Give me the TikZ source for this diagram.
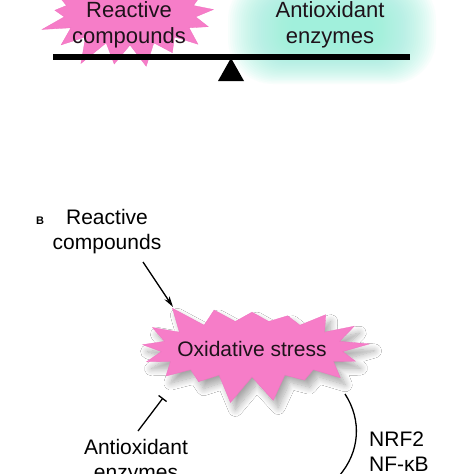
\documentclass[tikz,border=0pt]{standalone}
\usepackage{fontspec}
\setmainfont{Liberation Sans}
\usetikzlibrary{shapes.symbols,arrows.meta,shadows.blur}
\definecolor{burst}{RGB}{246,125,200}
\definecolor{burstedge}{RGB}{240,112,192}
\definecolor{glowc}{RGB}{150,240,220}
\definecolor{txt}{RGB}{30,18,26}
\tikzset{
  lbl/.style={align=center, text=txt, font=\fontsize{21}{25}\selectfont, inner sep=0pt},
  burstbox/.style={starburst, fill=burst, draw=burstedge, line width=0.3pt, starburst points=17, starburst point height=28pt, inner sep=0pt},
  conn/.style={line width=1.3pt, draw=black},
}
\begin{document}
\begin{tikzpicture}[x=1pt,y=-1pt]
\useasboundingbox (0,0) rectangle (474,474);
\clip (0,0) rectangle (474,474);
\fill[white] (0,0) rectangle (474,474);
% ---- Panel A ----
\foreach \i in {0,...,29}{
  \fill[glowc, fill opacity=0.06, rounded corners={45pt-1.2pt*\i}]
    ({228+2.2*\i},{-25+1.4*\i}) rectangle ({436-2.2*\i},{84-1.4*\i});
}
\node[burstbox, random starburst=7, minimum width=188pt, minimum height=118pt] (topburst) at (130,14) {};
\node[lbl, font=\fontsize{22}{26}\selectfont] (rcA) at (129,25) {Reactive\\compounds};
\node[lbl, font=\fontsize{22}{26}\selectfont] (aeA) at (330,25) {Antioxidant\\enzymes};
\fill[black] (53,54) rectangle (410,60);
\coordinate (apex) at (231,58);
\fill[black] (apex) -- (244,81) -- (218,81) -- cycle;
% ---- Panel B ----
\node[font=\bfseries\fontsize{11}{12}\selectfont, inner sep=0pt] (lblB) at (40,221) {B};
\node[lbl, text=black] (rcB) at (107,232) {Reactive\\compounds};
\node[burstbox, random starburst=3, minimum width=238pt, minimum height=112pt,
  blur shadow={shadow xshift=5pt, shadow yshift=-7pt, shadow blur radius=7pt, shadow blur steps=12, shadow opacity=35}] (ox) at (252,349) {};
\node[lbl] (oxt) at (252,349) {Oxidative stress};
\node[lbl, text=black] (aeB) at (136,462) {Antioxidant\\enzymes};
\node[lbl, text=black, align=left, anchor=west] (nrf) at (369,452) {NRF2\\NF-κB};
\coordinate (arrA) at (143,262);
\coordinate (arrB) at (173,307);
\draw[conn, -{Stealth[length=11pt,width=6pt]}] (arrA) -- (arrB);
\coordinate (inhA) at (138,431);
\coordinate (inhB) at (163,398);
\draw[conn, -{Bar[width=10pt]}] (inhA) -- (inhB);
\coordinate (cvA) at (345,394);
\coordinate (cvB) at (339,476);
\draw[conn] (cvA) .. controls (362,420) and (360,452) .. (cvB);
\end{tikzpicture}
\end{document}
